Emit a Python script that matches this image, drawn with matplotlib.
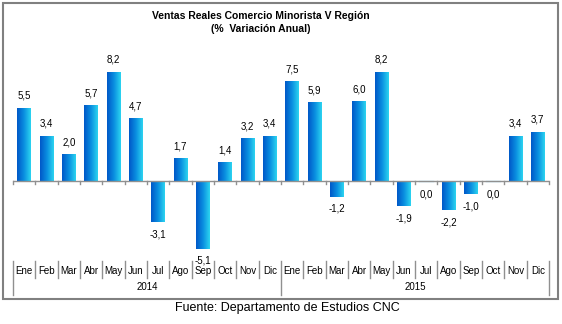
import numpy as np
import matplotlib.pyplot as plt
from matplotlib.colors import LinearSegmentedColormap
from matplotlib.patches import Rectangle
import matplotlib.transforms as mtransforms

plt.rcParams['font.family'] = ['Liberation Sans', 'DejaVu Sans']

meses = ['Ene', 'Feb', 'Mar', 'Abr', 'May', 'Jun', 'Jul', 'Ago', 'Sep', 'Oct', 'Nov', 'Dic']
anios = ['2014', '2015']
var_2014 = [5.5, 3.4, 2.0, 5.7, 8.2, 4.7, -3.1, 1.7, -5.1, 1.4, 3.2, 3.4]
var_2015 = [7.5, 5.9, -1.2, 6.0, 8.2, -1.9, 0.0, -2.2, -1.0, 0.0, 3.4, 3.7]

valores = var_2014 + var_2015
etiquetas = meses * len(anios)
n = len(valores)
x = np.arange(n)

W, H = 562, 324
fig = plt.figure(figsize=(W / 100, H / 100), dpi=100)

# marco gris exterior
fig.patches.append(Rectangle((3 / W, 1 - 299 / H), 555 / W, 296 / H, transform=fig.transFigure,
                             fill=False, edgecolor='#808080', linewidth=1.5))

ax = fig.add_axes([13 / W, 1 - 261 / H, 536 / W, 200 / H])
ax.axis('off')

cmap = LinearSegmentedColormap.from_list('azul', ['#0058c8', '#0a8ee0', '#2cd4f0'])
grad = np.linspace(0, 1, 64).reshape(1, -1)

barras = ax.bar(x, valores, width=0.62, color='none', edgecolor='none')
for b, v in zip(barras, valores):
    x0, w, h = b.get_x(), b.get_width(), b.get_height()
    if h == 0:
        ax.plot([x0, x0 + w], [0, 0], color='#9ad8f0', lw=1)
    else:
        im = ax.imshow(grad, cmap=cmap, aspect='auto', extent=(x0, x0 + w, min(0, h), max(0, h)),
                       zorder=2)
        im.set_clip_path(b)
    # etiqueta de valor
    txt = f'{v:.1f}'.replace('.', ',')
    if v > 0:
        ax.annotate(txt, (x0 + w / 2, h), xytext=(0, 5), textcoords='offset points',
                    ha='center', va='bottom', fontsize=7)
    elif v < 0:
        ax.annotate(txt, (x0 + w / 2, h), xytext=(0, -5), textcoords='offset points',
                    ha='center', va='top', fontsize=7)
    else:
        ax.annotate(txt, (x0 + w / 2, 0), xytext=(0, -6), textcoords='offset points',
                    ha='center', va='top', fontsize=7)
ax.set_aspect('auto')
ax.set_xlim(-0.5, n - 0.5)
ax.set_ylim(-6.0, 9.0)

# linea de cero con marcas
ax.axhline(0, color='#909090', lw=1, zorder=3)
bordes = np.arange(n + 1) - 0.5
trans = mtransforms.blended_transform_factory(ax.transData, ax.transAxes)
for bx in bordes:
    ax.plot([bx, bx], [0, -0.25], color='#909090', lw=1, zorder=3, clip_on=False)

# eje de categorias
for i, bx in enumerate(bordes):
    largo = -0.17 if i % 12 == 0 else -0.085
    ax.plot([bx, bx], [0.0, largo], color='#909090', lw=1, transform=trans, clip_on=False)
for xi, m in zip(x, etiquetas):
    ax.text(xi, -0.052, m, transform=trans, ha='center', va='center', fontsize=7)
for k, a in enumerate(anios):
    ax.text(k * 12 + 5.5, -0.13, a, transform=trans, ha='center', va='center', fontsize=7)

fig.text(261 / W, 1 - 16 / H, 'Ventas Reales Comercio Minorista V Región', ha='center', va='center',
         fontsize=7.5, fontweight='bold')
fig.text(261 / W, 1 - 29 / H, '(%  Variación Anual)', ha='center', va='center',
         fontsize=7.5, fontweight='bold')
fig.text(287 / W, 1 - 308 / H, 'Fuente: Departamento de Estudios CNC', ha='center', va='center',
         fontsize=9)

fig.savefig('out.png', dpi=100)
